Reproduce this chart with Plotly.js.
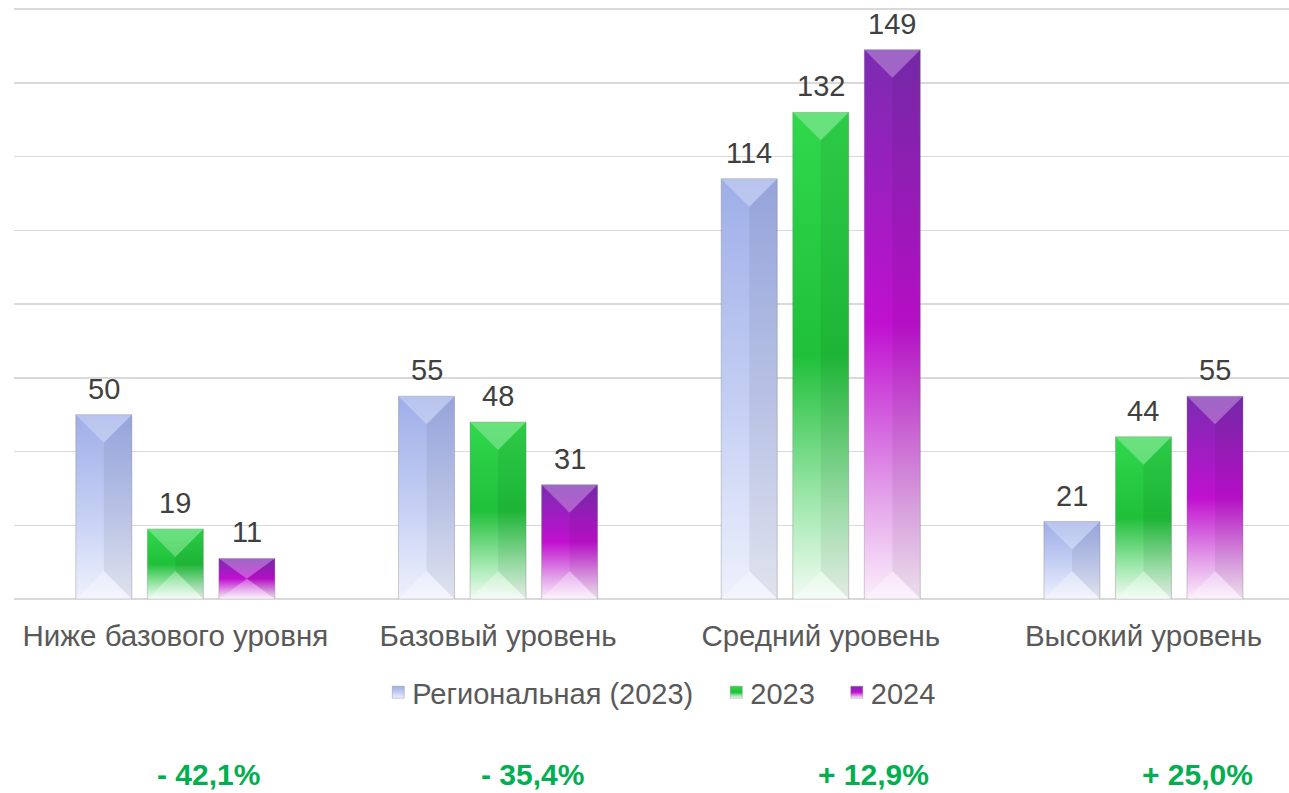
<!DOCTYPE html>
<html><head><meta charset="utf-8">
<script src="https://cdn.plot.ly/plotly-3.0.1.min.js"></script>
<style>html,body{margin:0;padding:0;background:#fff}#chart{width:1289px;height:793px}</style>
</head><body><div id="chart"></div>
<script>
const categories = ['Ниже базового уровня', 'Базовый уровень', 'Средний уровень', 'Высокий уровень'];
const seriesNames = ['Региональная (2023)', '2023', '2024'];
const regional2023 = [50, 55, 114, 21];
const school2023 = [19, 48, 132, 44];
const school2024 = [11, 31, 149, 55];
const changeLabels = ['- 42,1%', '- 35,4%', '+ 12,9%', '+ 25,0%'];

const seriesValues = [regional2023, school2023, school2024];
const baseColors = ['#aab8ea', '#2ecc45', '#a020c0'];
const gradStops = [
  [['0%', '#9eaee8'], ['55%', '#c6d0f4'], ['100%', '#eef1fc']],
  [['0%', '#30d84c'], ['50%', '#20c03a'], ['82%', '#a8eab4'], ['100%', '#f2fbf3']],
  [['0%', '#7a2cb0'], ['50%', '#c010d0'], ['82%', '#e4a4ea'], ['100%', '#fbeefb']]
];

const traces = seriesValues.map((vals, i) => ({
  type: 'bar', name: seriesNames[i], x: categories, y: vals,
  marker: {color: baseColors[i], line: {color: 'rgba(120,120,120,0.35)', width: 1}},
  hoverinfo: 'skip'
}));

const offsets = [-71.5, 0, 71.5];
const annotations = [];
seriesValues.forEach((vals, i) => vals.forEach((v, j) => annotations.push({
  x: categories[j], y: v, xref: 'x', yref: 'y', text: String(v), showarrow: false,
  xshift: offsets[i], yanchor: 'bottom', yshift: 8,
  font: {family: 'Liberation Sans, Arial, sans-serif', size: 29, color: '#404040'}
})));
const changeShift = [33, 34, 53, 54];
changeLabels.forEach((t, j) => annotations.push({
  x: categories[j], y: -0.326, xref: 'x', yref: 'paper', text: '<b>' + t + '</b>', showarrow: false,
  xshift: changeShift[j], yanchor: 'bottom', borderpad: 0,
  font: {family: 'Liberation Sans, Arial, sans-serif', size: 30, color: '#00b050'}
}));

const layout = {
  width: 1289, height: 793,
  margin: {l: 14, r: 0, t: 8, b: 194},
  paper_bgcolor: '#ffffff', plot_bgcolor: '#ffffff',
  barmode: 'group', bargap: 0.335, bargroupgap: 0.217,
  showlegend: true,
  legend: {orientation: 'h', x: 0.51, xanchor: 'center', y: -0.158, yanchor: 'middle',
    font: {family: 'Liberation Sans, Arial, sans-serif', size: 29, color: '#595959'},
    itemwidth: 30, traceorder: 'normal'},
  xaxis: {type: 'category', range: [-0.5, 3.451], showgrid: false, zeroline: false, showline: false,
    ticks: '', ticklabelstandoff: 16,
    tickfont: {family: 'Liberation Sans, Arial, sans-serif', size: 29.5, color: '#595959'}},
  yaxis: {range: [0, 160.3], tickvals: [0, 20, 40, 60, 80, 100, 120, 140, 160], showticklabels: false,
    gridcolor: '#d9d9d9', gridwidth: 1.5,
    zeroline: true, zerolinecolor: '#d9d9d9', zerolinewidth: 1.5, showline: false, ticks: ''},
  annotations: annotations
};

Plotly.newPlot('chart', traces, layout, {displayModeBar: false, staticPlot: true}).then(gd => {
  const NS = 'http://www.w3.org/2000/svg';
  const svg = gd.querySelector('svg.main-svg');
  let defs = svg.querySelector('defs');
  if (!defs) { defs = document.createElementNS(NS, 'defs'); svg.insertBefore(defs, svg.firstChild); }
  gradStops.forEach((stops, i) => {
    const g = document.createElementNS(NS, 'linearGradient');
    g.setAttribute('id', 'bargrad' + i);
    g.setAttribute('x1', '0'); g.setAttribute('y1', '0'); g.setAttribute('x2', '0'); g.setAttribute('y2', '1');
    stops.forEach(([o, c]) => {
      const s = document.createElementNS(NS, 'stop');
      s.setAttribute('offset', o); s.setAttribute('stop-color', c);
      g.appendChild(s);
    });
    defs.appendChild(g);
  });
  const barTraces = gd.querySelectorAll('.barlayer .trace');
  barTraces.forEach((tr, i) => {
    tr.querySelectorAll('.point path').forEach(p => {
      p.style.fill = 'url(#bargrad' + i + ')';
      const b = p.getBBox();
      const x0 = b.x, x1 = b.x + b.width, y0 = b.y, y1 = b.y + b.height;
      const xm = (x0 + x1) / 2;
      const d = Math.min(b.width / 2, b.height / 2);
      const parent = p.parentNode;
      const add = (pts, fill) => {
        const poly = document.createElementNS(NS, 'polygon');
        poly.setAttribute('points', pts.map(q => q.join(',')).join(' '));
        poly.setAttribute('style', 'fill:' + fill + ';stroke:none');
        parent.appendChild(poly);
      };
      add([[xm, y0 + d], [x1, y0], [x1, y1], [xm, y1 - d]], 'rgba(0,0,0,0.06)');
      add([[x0, y0], [x1, y0], [xm, y0 + d]], 'rgba(255,255,255,0.28)');
      add([[x0, y1], [x1, y1], [xm, y1 - d]], 'rgba(255,255,255,0.30)');
    });
  });
  const itemShift = [-13, -1, 10];
  gd.querySelectorAll('.legend .traces').forEach((tr, i) => {
    tr.querySelectorAll('.legendpoints path').forEach(p => { p.style.fill = 'url(#bargrad' + i + ')'; });
    const tf = tr.getAttribute('transform') || '';
    const m = tf.match(/translate\(([-\d.]+)[ ,]*([-\d.]+)?\)/);
    if (m) {
      const tx = parseFloat(m[1]) + (itemShift[i] || 0), ty = parseFloat(m[2] || 0);
      tr.setAttribute('transform', 'translate(' + tx + ',' + ty + ')');
    }
    const txt = tr.querySelector('text.legendtext');
    if (txt) {
      const cx = parseFloat(txt.getAttribute('x') || 0);
      txt.setAttribute('x', cx - 6);
      txt.querySelectorAll('tspan[x]').forEach(ts => ts.setAttribute('x', parseFloat(ts.getAttribute('x')) - 6));
    }
  });
});
</script></body></html>
